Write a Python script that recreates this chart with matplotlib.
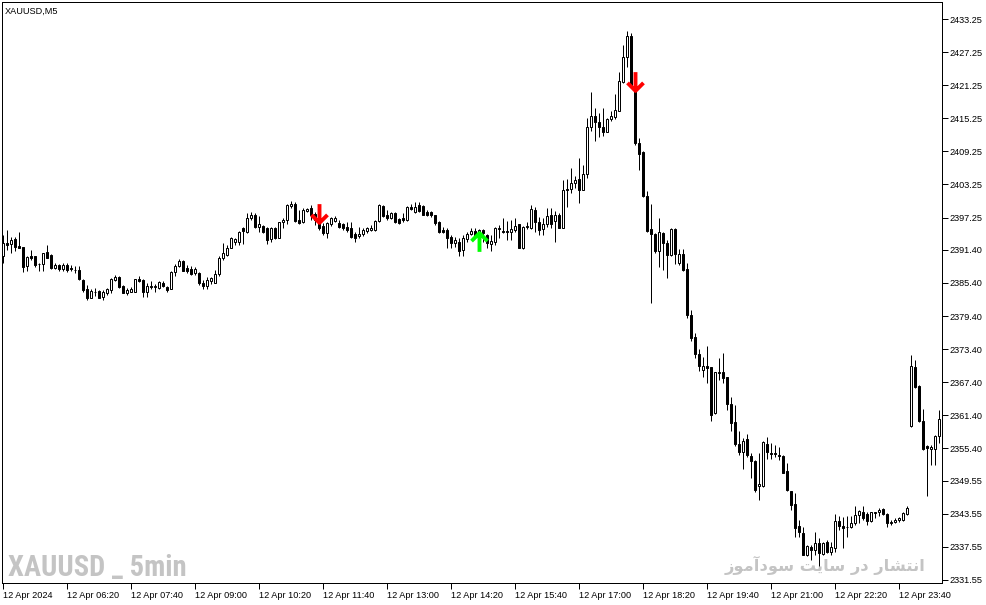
import matplotlib

matplotlib.use("Agg")
import matplotlib.pyplot as plt
import numpy as np
from matplotlib import font_manager
from matplotlib.path import Path

# 5-minute XAUUSD bars
opens = [
    2390.2, 2392.7, 2392.4, 2393.4, 2392.1, 2391.9, 2388.4, 2390.3, 2390.2, 2388.9,
    2388.8, 2391.0, 2390.5, 2388.1, 2388.7, 2388.0, 2388.7, 2388.1, 2387.8, 2387.8,
    2385.9, 2384.3, 2382.6, 2383.7, 2384.0, 2382.9, 2383.5, 2384.2, 2386.0, 2386.4,
    2384.8, 2383.5, 2383.7, 2383.8, 2386.1, 2385.9, 2383.7, 2384.9, 2384.7, 2384.4,
    2385.4, 2384.7, 2384.3, 2387.3, 2388.4, 2389.4, 2388.1, 2388.0, 2387.2, 2387.2,
    2385.4, 2384.9, 2385.8, 2385.4, 2387.0, 2390.0, 2390.5, 2391.8, 2392.9, 2392.9,
    2395.3, 2394.6, 2397.2, 2397.7, 2395.6, 2395.8, 2395.3, 2393.3, 2395.4, 2393.6,
    2396.4, 2396.8, 2399.3, 2399.8, 2396.8, 2396.5, 2398.5, 2398.9, 2397.9, 2397.2,
    2395.8, 2394.4, 2396.0, 2396.6, 2396.3, 2396.0, 2395.6, 2395.4, 2394.2, 2393.9,
    2394.2, 2394.8, 2395.0, 2395.0, 2396.6, 2399.4, 2397.7, 2397.1, 2398.0, 2397.0,
    2397.1, 2396.8, 2399.2, 2398.3, 2399.5, 2399.4, 2398.3, 2398.3, 2397.7, 2396.5,
    2395.0, 2395.0, 2393.8, 2392.6, 2392.9, 2391.4, 2393.4, 2394.2, 2394.9, 2394.4,
    2395.0, 2394.1, 2392.4, 2392.9, 2395.1, 2394.9, 2394.8, 2394.7, 2395.0, 2396.1,
    2391.7, 2395.6, 2395.3, 2398.6, 2396.5, 2395.2, 2396.0, 2397.8, 2396.6, 2397.8,
    2395.4, 2402.5, 2402.4, 2403.6, 2404.2, 2402.3, 2405.2, 2413.6, 2415.7, 2414.5,
    2413.7, 2412.8, 2415.1, 2415.4, 2416.6, 2421.8, 2426.3, 2430.2, 2421.1, 2410.7,
    2409.2, 2401.1, 2395.2, 2394.2, 2391.1, 2394.4, 2392.6, 2390.5, 2395.2, 2389.0,
    2390.6, 2387.9, 2379.5, 2375.6, 2372.6, 2369.6, 2370.4, 2370.1, 2361.8, 2369.0,
    2369.3, 2368.3, 2363.5, 2360.1, 2356.2, 2354.8, 2357.1, 2354.0, 2353.2, 2348.5,
    2348.6, 2356.2, 2354.6, 2354.5, 2354.2, 2354.0, 2351.3, 2347.6, 2345.4, 2341.4,
    2340.1, 2336.1, 2337.6, 2337.0, 2338.3, 2336.3, 2338.5, 2336.7, 2337.3, 2342.3,
    2341.4, 2341.2, 2341.2, 2341.8, 2343.3, 2343.9, 2343.5, 2342.2, 2343.7, 2343.8,
    2344.4, 2343.5, 2341.8, 2342.1, 2342.4, 2342.5, 2343.5, 2359.4, 2370.1, 2366.7,
    2360.3, 2355.9, 2355.3, 2355.3, 2357.7,
]
highs = [
    2394.1, 2395.0, 2393.8, 2393.8, 2394.7, 2392.0, 2390.2, 2391.4, 2390.3, 2389.1,
    2390.8, 2392.3, 2390.6, 2389.0, 2388.8, 2389.0, 2389.0, 2388.7, 2388.4, 2388.5,
    2386.2, 2385.0, 2384.3, 2384.4, 2384.1, 2384.1, 2384.4, 2386.3, 2386.9, 2386.7,
    2385.0, 2384.4, 2384.6, 2386.1, 2386.7, 2386.1, 2385.3, 2385.8, 2385.2, 2385.8,
    2385.8, 2384.9, 2387.5, 2388.8, 2389.7, 2389.6, 2388.7, 2388.4, 2388.2, 2387.3,
    2385.9, 2386.5, 2386.5, 2387.8, 2390.2, 2392.6, 2392.3, 2393.8, 2393.6, 2394.8,
    2395.6, 2398.0, 2398.3, 2398.0, 2397.6, 2395.9, 2395.6, 2395.6, 2395.6, 2396.5,
    2397.1, 2399.7, 2400.3, 2400.0, 2398.6, 2398.9, 2398.9, 2399.5, 2398.3, 2397.7,
    2396.2, 2396.5, 2397.4, 2397.6, 2396.8, 2396.2, 2396.5, 2396.4, 2394.6, 2395.6,
    2395.4, 2395.6, 2395.9, 2396.8, 2399.8, 2399.5, 2398.6, 2398.2, 2398.3, 2397.2,
    2398.0, 2399.4, 2399.7, 2400.1, 2400.1, 2399.5, 2398.6, 2398.4, 2397.8, 2396.6,
    2395.6, 2395.3, 2394.1, 2393.8, 2393.5, 2394.1, 2394.7, 2395.3, 2395.3, 2395.2,
    2395.2, 2394.2, 2394.1, 2395.6, 2395.9, 2397.1, 2396.6, 2396.8, 2397.1, 2396.1,
    2395.8, 2396.5, 2399.5, 2399.1, 2397.4, 2397.1, 2398.9, 2398.9, 2398.4, 2398.0,
    2404.1, 2404.2, 2406.2, 2404.7, 2408.0, 2406.8, 2415.3, 2420.1, 2417.2, 2416.3,
    2417.1, 2415.3, 2416.6, 2419.6, 2423.7, 2428.5, 2431.1, 2430.8, 2421.3, 2411.6,
    2409.3, 2402.0, 2399.8, 2394.4, 2397.2, 2394.7, 2393.2, 2395.3, 2395.3, 2391.6,
    2391.6, 2389.0, 2380.5, 2376.3, 2373.5, 2372.0, 2373.9, 2370.2, 2369.3, 2371.8,
    2372.7, 2368.4, 2364.8, 2363.3, 2358.6, 2357.2, 2358.0, 2354.5, 2353.3, 2354.5,
    2356.8, 2357.4, 2356.4, 2356.0, 2355.7, 2354.2, 2352.7, 2347.6, 2347.3, 2342.4,
    2341.2, 2337.9, 2337.9, 2340.3, 2339.1, 2338.5, 2338.8, 2338.5, 2343.5, 2343.1,
    2342.9, 2343.1, 2343.1, 2344.9, 2344.3, 2344.9, 2343.9, 2343.9, 2343.9, 2344.6,
    2344.6, 2343.6, 2342.5, 2342.7, 2343.0, 2343.8, 2344.9, 2372.4, 2371.4, 2366.9,
    2362.5, 2356.0, 2356.0, 2357.9, 2362.4,
]
lows = [
    2389.0, 2391.4, 2390.8, 2391.1, 2391.7, 2387.4, 2387.6, 2389.6, 2388.2, 2387.6,
    2387.6, 2389.9, 2388.0, 2388.0, 2387.6, 2387.6, 2387.3, 2387.6, 2387.2, 2385.9,
    2383.7, 2382.3, 2382.6, 2383.0, 2382.6, 2382.3, 2383.2, 2383.5, 2385.8, 2384.4,
    2383.5, 2383.2, 2383.7, 2383.8, 2385.5, 2382.9, 2382.9, 2384.3, 2383.8, 2384.3,
    2384.6, 2383.7, 2384.3, 2386.6, 2388.2, 2387.5, 2387.2, 2386.9, 2386.9, 2385.0,
    2384.3, 2384.3, 2385.2, 2385.4, 2386.6, 2389.6, 2390.2, 2391.7, 2392.2, 2392.3,
    2392.5, 2394.4, 2396.9, 2395.4, 2394.6, 2394.4, 2392.4, 2392.9, 2393.4, 2393.5,
    2395.3, 2396.0, 2398.9, 2396.5, 2396.0, 2396.2, 2398.3, 2396.8, 2395.9, 2395.0,
    2394.1, 2393.6, 2395.8, 2396.5, 2395.3, 2395.0, 2394.7, 2393.5, 2392.9, 2393.6,
    2394.0, 2394.4, 2394.8, 2394.8, 2396.5, 2397.4, 2396.8, 2397.0, 2396.2, 2396.0,
    2396.5, 2396.6, 2398.6, 2398.0, 2398.2, 2397.7, 2397.6, 2397.4, 2395.9, 2394.4,
    2394.4, 2391.7, 2391.7, 2392.0, 2390.2, 2390.2, 2392.9, 2394.1, 2393.5, 2394.1,
    2392.9, 2391.7, 2391.1, 2392.3, 2393.5, 2394.4, 2393.2, 2393.2, 2394.6, 2391.7,
    2391.6, 2395.2, 2395.2, 2394.7, 2394.1, 2394.1, 2395.6, 2395.3, 2392.9, 2395.3,
    2395.3, 2399.1, 2401.7, 2402.7, 2399.9, 2402.3, 2404.5, 2413.0, 2411.2, 2411.9,
    2412.1, 2412.7, 2414.8, 2415.1, 2416.5, 2421.6, 2424.6, 2420.7, 2410.4, 2405.8,
    2400.9, 2394.7, 2381.7, 2390.8, 2388.2, 2387.8, 2386.3, 2390.2, 2388.8, 2388.7,
    2387.5, 2379.0, 2374.8, 2371.8, 2369.5, 2368.4, 2367.2, 2360.3, 2361.7, 2367.8,
    2367.2, 2362.4, 2358.6, 2355.9, 2354.2, 2351.6, 2353.9, 2350.0, 2347.4, 2346.1,
    2348.4, 2353.4, 2353.4, 2353.9, 2353.3, 2350.9, 2347.6, 2344.3, 2339.4, 2339.4,
    2336.1, 2335.8, 2335.2, 2336.1, 2334.0, 2336.1, 2336.4, 2336.1, 2336.7, 2340.6,
    2337.3, 2339.4, 2340.9, 2341.5, 2341.9, 2342.5, 2341.5, 2342.0, 2342.8, 2343.2,
    2343.3, 2341.1, 2341.5, 2341.9, 2342.0, 2342.3, 2343.4, 2359.3, 2366.3, 2360.1,
    2355.1, 2346.7, 2352.4, 2352.4, 2356.4,
]
closes = [
    2392.7, 2392.2, 2393.2, 2392.0, 2391.7, 2388.2, 2390.1, 2389.9, 2388.7, 2388.8,
    2390.8, 2390.0, 2388.1, 2388.7, 2388.0, 2388.7, 2387.8, 2388.0, 2387.7, 2386.1,
    2384.1, 2382.6, 2383.9, 2383.8, 2382.7, 2383.8, 2384.3, 2386.1, 2386.5, 2384.7,
    2383.6, 2384.1, 2384.3, 2386.1, 2385.8, 2383.8, 2384.9, 2384.6, 2384.8, 2385.5,
    2384.9, 2384.1, 2387.3, 2388.5, 2389.4, 2387.6, 2387.6, 2387.0, 2387.9, 2385.3,
    2384.9, 2385.9, 2386.3, 2387.0, 2390.0, 2390.8, 2391.7, 2393.5, 2393.3, 2394.6,
    2394.8, 2397.2, 2397.8, 2395.6, 2396.0, 2394.7, 2393.2, 2395.4, 2393.6, 2396.4,
    2396.8, 2399.5, 2399.8, 2396.6, 2396.2, 2398.6, 2398.8, 2397.7, 2396.8, 2395.3,
    2394.4, 2396.2, 2397.1, 2397.2, 2395.6, 2395.3, 2395.0, 2393.8, 2393.6, 2394.2,
    2395.0, 2395.3, 2395.4, 2396.6, 2399.5, 2397.6, 2397.1, 2398.0, 2396.5, 2396.2,
    2396.8, 2399.2, 2398.8, 2399.2, 2398.4, 2397.8, 2397.8, 2397.7, 2396.2, 2394.6,
    2394.7, 2393.5, 2392.6, 2393.2, 2391.2, 2393.5, 2394.3, 2394.8, 2393.8, 2395.0,
    2394.4, 2392.6, 2393.0, 2395.3, 2395.4, 2394.6, 2394.7, 2395.2, 2395.7, 2391.7,
    2395.6, 2395.7, 2398.8, 2396.5, 2395.0, 2396.1, 2397.6, 2396.0, 2397.8, 2395.4,
    2402.3, 2402.2, 2403.6, 2404.1, 2402.3, 2405.1, 2413.6, 2415.7, 2414.5, 2413.6,
    2412.8, 2415.1, 2415.6, 2416.8, 2422.0, 2426.4, 2430.2, 2421.0, 2410.7, 2408.7,
    2401.1, 2394.9, 2394.2, 2391.1, 2394.6, 2392.6, 2390.5, 2395.2, 2390.6, 2390.6,
    2387.8, 2379.5, 2375.5, 2372.5, 2370.3, 2370.4, 2369.9, 2361.5, 2369.2, 2369.2,
    2368.1, 2363.4, 2360.0, 2356.2, 2354.8, 2356.8, 2354.2, 2353.2, 2347.8, 2348.9,
    2356.5, 2354.7, 2354.4, 2354.3, 2354.0, 2351.0, 2347.8, 2345.2, 2341.0, 2340.3,
    2336.1, 2337.7, 2337.0, 2338.3, 2336.4, 2338.2, 2336.7, 2337.6, 2342.2, 2341.3,
    2341.0, 2341.1, 2341.9, 2343.3, 2344.1, 2342.8, 2342.3, 2343.8, 2343.8, 2344.3,
    2343.5, 2341.8, 2342.1, 2342.5, 2342.7, 2343.7, 2344.6, 2370.4, 2366.6, 2360.3,
    2355.3, 2355.5, 2355.7, 2357.7, 2360.7,
]

# time axis labels, one every 16 bars
time_labels = [
    "12 Apr 2024", "12 Apr 06:20", "12 Apr 07:40", "12 Apr 09:00", "12 Apr 10:20",
    "12 Apr 11:40", "12 Apr 13:00", "12 Apr 14:20", "12 Apr 15:40", "12 Apr 17:00",
    "12 Apr 18:20", "12 Apr 19:40", "12 Apr 21:00", "12 Apr 22:20", "12 Apr 23:40",
]
label_step = 16

price_ticks = [
    2433.25, 2427.25, 2421.25, 2415.25, 2409.25, 2403.25, 2397.25, 2391.40, 2385.40,
    2379.40, 2373.40, 2367.40, 2361.40, 2355.40, 2349.55, 2343.55, 2337.55, 2331.55,
]

# arrow signals drawn by the indicator
signal_bar = [79, 119, 158]
signal_price = [2398.0, 2392.9, 2422.0]
signal_side = ["sell", "buy", "sell"]

symbol_label = "XAUUSD,M5"
watermark_left = "XAUUSD _ 5min"
watermark_right = "انتشار در سایت سودآموز"

# contextual forms for the Persian letters used in the watermark
# (isolated, final, initial, medial)
ARABIC_FORMS = {
    "ا": ("\uFE8D", "\uFE8E", None, None),
    "آ": ("\uFE81", "\uFE82", None, None),
    "ن": ("\uFEE5", "\uFEE6", "\uFEE7", "\uFEE8"),
    "ت": ("\uFE95", "\uFE96", "\uFE97", "\uFE98"),
    "ش": ("\uFEB5", "\uFEB6", "\uFEB7", "\uFEB8"),
    "ر": ("\uFEAD", "\uFEAE", None, None),
    "د": ("\uFEA9", "\uFEAA", None, None),
    "س": ("\uFEB1", "\uFEB2", "\uFEB3", "\uFEB4"),
    "ی": ("\uFBFC", "\uFBFD", "\uFEF3", "\uFEF4"),
    "و": ("\uFEED", "\uFEEE", None, None),
    "م": ("\uFEE1", "\uFEE2", "\uFEE3", "\uFEE4"),
    "ز": ("\uFEAF", "\uFEB0", None, None),
}


def shape_rtl(text: str) -> str:
    out = []
    for k, ch in enumerate(text):
        forms = ARABIC_FORMS.get(ch)
        if forms is None:
            out.append(ch)
            continue
        prev = ARABIC_FORMS.get(text[k - 1]) if k > 0 else None
        nxt = ARABIC_FORMS.get(text[k + 1]) if k + 1 < len(text) else None
        join_prev = prev is not None and prev[2] is not None
        join_next = nxt is not None and forms[2] is not None
        if join_prev and join_next:
            out.append(forms[3])
        elif join_prev:
            out.append(forms[1])
        elif join_next:
            out.append(forms[2])
        else:
            out.append(forms[0])
    return "".join(reversed(out))


def pick_font(*names: str) -> tuple[str, str]:
    fonts = font_manager.fontManager.ttflist
    for name in names:
        for f in fonts:
            if f.name == name and f.stretch in ("condensed", "semi-condensed"):
                return name, "condensed"
        if any(f.name == name for f in fonts) and ("Narrow" in name or "Condensed" in name):
            return name, "normal"
    return names[-1], "normal"


def fit_width(text, renderer, target_px: float) -> None:
    width = text.get_window_extent(renderer).width
    text.set_fontsize(text.get_fontsize() * target_px / width)


UI_FONT = ["Liberation Sans", "DejaVu Sans"]

DOWN_ARROW = Path(
    [(0, 1.0), (0, -1.0), (-0.85, -0.15), (0, -1.0), (0.85, -0.15)],
    [Path.MOVETO, Path.LINETO, Path.MOVETO, Path.LINETO, Path.LINETO],
)
UP_ARROW = Path(
    [(0, -1.0), (0, 1.0), (-0.85, 0.15), (0, 1.0), (0.85, 0.15)],
    [Path.MOVETO, Path.LINETO, Path.MOVETO, Path.LINETO, Path.LINETO],
)


def main() -> None:
    o = np.array(opens)
    h = np.array(highs)
    l = np.array(lows)
    c = np.array(closes)
    idx = np.arange(len(o))

    W, H = 987, 605
    fig = plt.figure(figsize=(W / 100, H / 100), dpi=100, facecolor="white")
    ax = fig.add_axes([2 / W, (H - 583) / H, 940 / W, 581 / H])
    px = 72 / 100  # one pixel in points

    ax.vlines(idx, l, h, color="black", linewidth=px)
    up = c >= o
    body_lo = np.minimum(o, c)
    body_h = np.maximum(np.abs(c - o), 0.02)
    ax.bar(idx[up], body_h[up], bottom=body_lo[up], width=0.5, facecolor="white",
           edgecolor="black", linewidth=px, zorder=3)
    ax.bar(idx[~up], body_h[~up], bottom=body_lo[~up], width=0.5, facecolor="black",
           edgecolor="black", linewidth=px, zorder=3)

    for bar, price, side in zip(signal_bar, signal_price, signal_side):
        ax.plot(bar, price, marker=DOWN_ARROW if side == "sell" else UP_ARROW,
                markersize=13.5, markerfacecolor="none", markeredgewidth=2.8,
                markeredgecolor="#ff0000" if side == "sell" else "#00ff00", zorder=5)

    ax.set_xlim(-0.25, 234.75)
    ax.set_ylim(2330.99, 2436.34)

    ax.set_xticks(idx[::label_step][: len(time_labels)], time_labels)
    ax.yaxis.tick_right()
    ax.set_yticks(price_ticks, [f"{p:.2f}" for p in price_ticks])
    ax.tick_params(axis="both", direction="out", length=4, width=px, color="black",
                   labelsize=6.6, pad=1.5)
    for lab in ax.get_xticklabels():
        lab.set_horizontalalignment("left")
        lab.set_fontfamily(UI_FONT)
    for lab in ax.get_yticklabels():
        lab.set_fontfamily(UI_FONT)
    for sp in ax.spines.values():
        sp.set_linewidth(px)
        sp.set_color("black")

    ax.text(0.0032, 0.991, symbol_label, transform=ax.transAxes, ha="left", va="top",
            fontsize=6.6, family=UI_FONT, color="black")

    narrow, stretch = pick_font("Roboto Condensed", "Liberation Sans Narrow",
                                "DejaVu Sans", "Roboto")
    left_mark = ax.text(0.0064, 0.012, watermark_left, transform=ax.transAxes,
                        ha="left", va="baseline", fontsize=20, fontweight="bold",
                        family=[narrow, "DejaVu Sans"], fontstretch=stretch,
                        color="#c4c4c4", zorder=1)
    right_mark = ax.text(0.982, 0.021, shape_rtl(watermark_right), transform=ax.transAxes,
                         ha="right", va="baseline", fontsize=13, fontweight="bold",
                         family=["DejaVu Sans"], color="#c4c4c4", zorder=1)

    renderer = fig.canvas.get_renderer()
    fit_width(left_mark, renderer, 178)
    fit_width(right_mark, renderer, 200)

    fig.savefig("out.png", dpi=100, facecolor="white")
    plt.close(fig)


if __name__ == "__main__":
    main()
